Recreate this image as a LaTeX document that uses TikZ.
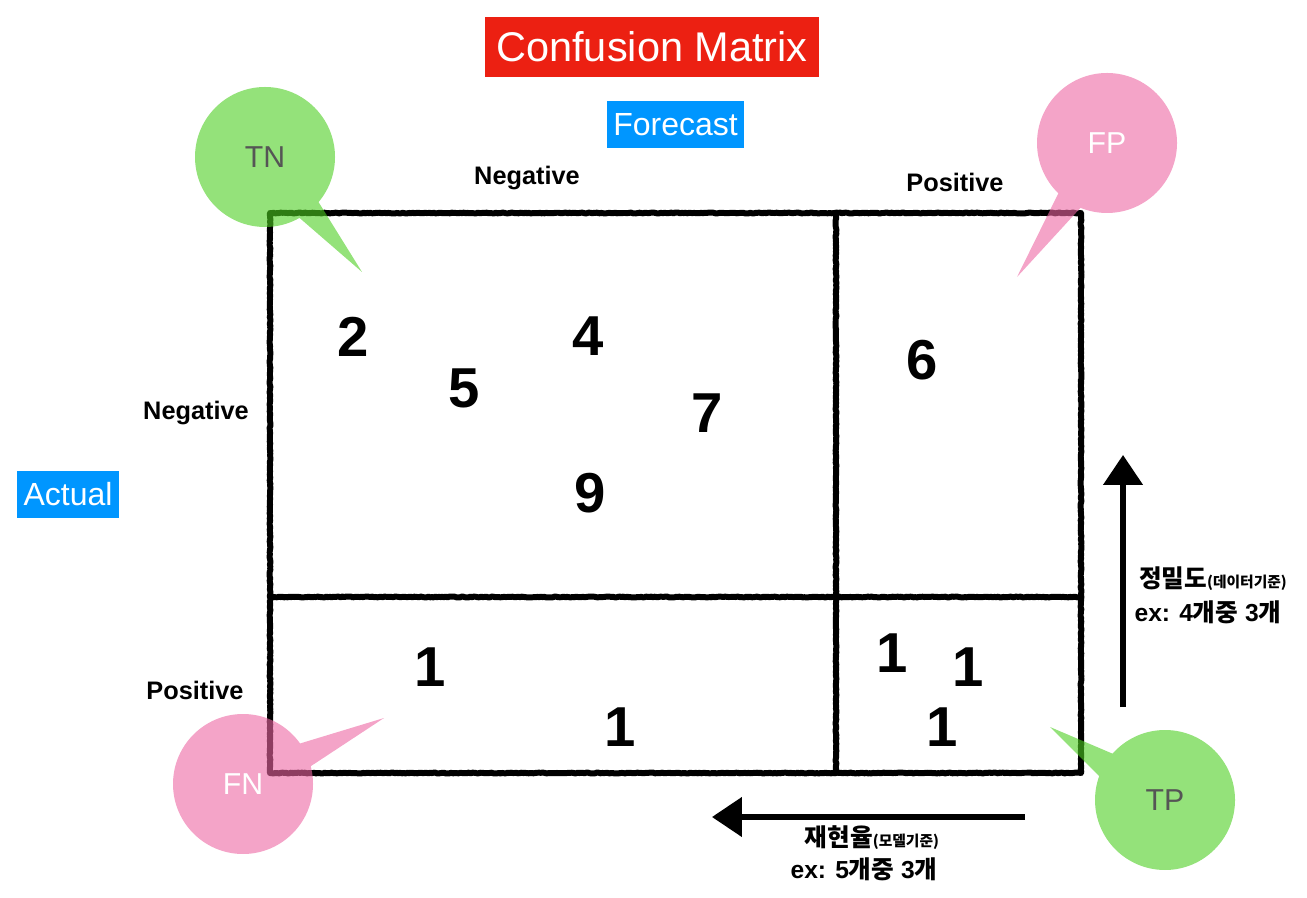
\documentclass[tikz,border=0pt]{standalone}
\usepackage{fontspec}
\setmainfont{Liberation Sans}
\newfontfamily\kofont{Noto Sans CJK KR}
\usetikzlibrary{arrows.meta, decorations.pathmorphing}
\definecolor{titleRed}{RGB}{236, 32, 18}
\definecolor{tagBlue}{RGB}{0, 150, 255}
\definecolor{bubbleGreen}{RGB}{77, 206, 33}
\definecolor{bubblePink}{RGB}{237, 103, 163}
\definecolor{bubbleText}{RGB}{85, 85, 85}
\tikzset{
  chalk/.style={line width=1.7pt, line join=round, decorate,
    decoration={random steps, segment length=0.5pt, amplitude=0.12pt}},
  bigarrow/.style={line width=1.5pt, -{Triangle[length=8.5pt, width=11pt]}},
  tag/.style={fill=tagBlue, text=white, font=\fontsize{9.1pt}{10pt}\selectfont,
    minimum height=0.47cm, inner sep=0pt},
  axislabel/.style={font=\fontsize{7.2pt}{8pt}\selectfont\bfseries},
  count/.style={font=\fontsize{16pt}{18pt}\selectfont\bfseries, inner sep=0pt},
  greenbubble/.style={fill=bubbleGreen, fill opacity=0.6},
  pinkbubble/.style={fill=bubblePink, fill opacity=0.6},
  bubbletag/.style={font=\fontsize{8.6pt}{10pt}\selectfont},
  kolabel/.style={font=\fontsize{7pt}{8pt}\selectfont\bfseries, inner sep=0pt}
}
\newcommand{\ko}[1]{{\kofont\bfseries #1}}
\newcommand{\smallko}[1]{{\kofont\bfseries\fontsize{4.2pt}{5pt}\selectfont #1}}

\begin{document}
\begin{tikzpicture}[x=0.01cm, y=-0.01cm]
  \useasboundingbox (0,0) rectangle (1307,898);

  % title and axis tags
  \node[fill=titleRed, text=white, font=\fontsize{11.8pt}{13pt}\selectfont,
    minimum width=3.34cm, minimum height=0.59cm, inner sep=0pt] (title) at (652,47) {Confusion Matrix};
  \node[tag, minimum width=1.37cm] (forecast) at (675.5,124.5) {Forecast};
  \node[tag, minimum width=1.02cm] (actual) at (68,494.5) {Actual};

  % matrix frame
  \coordinate (nw) at (270,213);
  \coordinate (se) at (1081,773);
  \draw[chalk] (nw) rectangle (se);
  \draw[chalk] (836,213) -- (836,773);
  \draw[chalk] (270,597) -- (1081,597);

  \node[axislabel] (pred neg) at (527,178) {Negative};
  \node[axislabel] (pred pos) at (955,182) {Positive};
  \node[axislabel] (act neg) at (196,413) {Negative};
  \node[axislabel] (act pos) at (195,690) {Positive};

  % counts
  \node[count] (n2) at (353,337) {2};
  \node[count] (n4) at (588,336) {4};
  \node[count] (n5) at (464,388) {5};
  \node[count] (n7) at (707,413) {7};
  \node[count] (n9) at (590,493) {9};
  \node[count] (n6) at (922,360) {6};
  \node[count] (fn1) at (430,667) {1};
  \node[count] (fn2) at (620,727) {1};
  \node[count] (tp1) at (892,653) {1};
  \node[count] (tp2) at (968,667) {1};
  \node[count] (tp3) at (942,727) {1};

  % precision / recall arrows
  \coordinate (prec start) at (1123,707);
  \coordinate (prec end) at (1123,455);
  \draw[bigarrow] (prec start) -- (prec end);
  \coordinate (rec start) at (1025,817);
  \coordinate (rec end) at (712,817);
  \draw[bigarrow] (rec start) -- (rec end);

  \node[kolabel] (prec label) at (1213,579) {\ko{정밀도}\smallko{(데이터기준)}};
  \node[kolabel] (prec ex) at (1208,612) {ex: 4\ko{개중} 3\ko{개}};
  \node[kolabel] (rec label) at (872,838) {\ko{재현율}\smallko{(모델기준)}};
  \node[kolabel] (rec ex) at (864,869) {ex: 5\ko{개중} 3\ko{개}};

  % speech bubbles
  \fill[greenbubble] (265,157) circle[radius=70] (316,198) -- (362,272) -- (295,214) -- cycle;
  \fill[pinkbubble] (1107,143) circle[radius=70] (1084,204) -- (1017,277) -- (1060,190) -- cycle;
  \fill[pinkbubble] (243,784) circle[radius=70] (295,745) -- (384,718) -- (305,770) -- cycle;
  \fill[greenbubble] (1165,800) circle[radius=70] (1103,780) -- (1050,727) -- (1118,756) -- cycle;

  \node[bubbletag, text=bubbleText] (tn) at (265,157) {TN};
  \node[bubbletag, text=white] (fp) at (1107,143) {FP};
  \node[bubbletag, text=white] (fn) at (243,784) {FN};
  \node[bubbletag, text=bubbleText] (tp) at (1165,800) {TP};
\end{tikzpicture}
\end{document}
